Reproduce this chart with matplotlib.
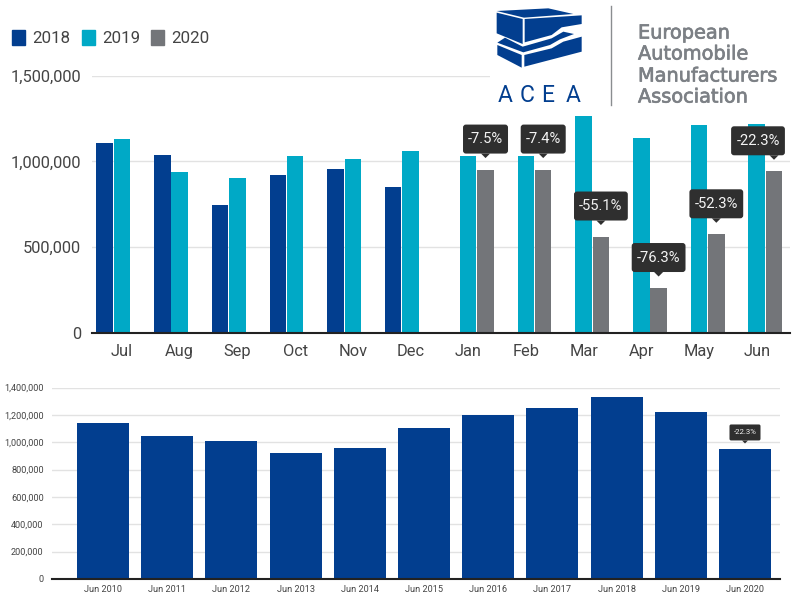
import numpy as np
from matplotlib import pyplot as plt
from matplotlib import patheffects as pe
from matplotlib.patches import FancyBboxPatch, Polygon, Rectangle, Patch
from matplotlib.transforms import ScaledTranslation

plt.rcParams['font.family'] = ['Roboto', 'DejaVu Sans']

months = ['Jul', 'Aug', 'Sep', 'Oct', 'Nov', 'Dec', 'Jan', 'Feb', 'Mar', 'Apr', 'May', 'Jun']
sales_2018 = [1105000, 1035000, 748000, 922000, 955000, 850000]
sales_2019 = [1128000, 940000, 902000, 1030000, 1015000, 1060000,
              1032000, 1032000, 1262000, 1138000, 1212000, 1218000]
sales_2020 = [952000, 952000, 562000, 262000, 575000, 942000]
changes = ['-7.5%', '-7.4%', '-55.1%', '-76.3%', '-52.3%', '-22.3%']
top_ticks = [0, 500000, 1000000, 1500000]

june_labels = ['Jun 2010', 'Jun 2011', 'Jun 2012', 'Jun 2013', 'Jun 2014', 'Jun 2015',
               'Jun 2016', 'Jun 2017', 'Jun 2018', 'Jun 2019', 'Jun 2020']
june_sales = [1142000, 1048000, 1008000, 920000, 958000, 1102000,
              1202000, 1248000, 1330000, 1222000, 947000]
bottom_ticks = [0, 200000, 400000, 600000, 800000, 1000000, 1200000, 1400000]

BLUE = '#023e8f'
TEAL = '#00a9c6'
GREY = '#737579'
TIP = '#2f2f2f'
W, H = 800, 600


def axes_at(left, right, top, bottom):
    return fig.add_axes([left / W, 1 - bottom / H, (right - left) / W, (bottom - top) / H])


def style(ax, ticks, size):
    for s in ax.spines.values():
        s.set_visible(False)
    ax.spines['bottom'].set_visible(True)
    ax.spines['bottom'].set_color('#222222')
    ax.spines['bottom'].set_linewidth(1.5)
    ax.set_yticks(ticks)
    ax.set_yticklabels([f'{t:,}' for t in ticks])
    ax.grid(axis='y', color='#e2e2e2', lw=1)
    ax.set_axisbelow(True)
    ax.tick_params(length=0, labelsize=size, labelcolor='#444444')


def tooltip(ax, xi, val, txt, dx, w, h, gap, tip_w, size):
    # sizes in pixels, anchored on the top of the bar
    tr = fig.dpi_scale_trans + ScaledTranslation(xi, val, ax.transData)
    ax.add_patch(FancyBboxPatch(((dx - w / 2) / 100, gap / 100), w / 100, h / 100,
                                boxstyle=f'round,pad=0,rounding_size={h * 0.1 / 100}',
                                fc=TIP, ec='none', transform=tr, zorder=5, clip_on=False))
    ax.add_patch(Polygon([(-tip_w / 100, gap / 100), (tip_w / 100, gap / 100),
                          (0, (gap - tip_w) / 100)],
                         fc=TIP, ec='none', transform=tr, zorder=5, clip_on=False))
    ax.text((dx) / 100, (gap + h / 2) / 100, txt, transform=tr, color='#f4f4f4',
            fontsize=size, ha='center', va='center', zorder=6, clip_on=False)


fig = plt.figure(figsize=(8, 6), dpi=100)

# top chart
ax = axes_at(92, 790, 75.5, 333)
x = np.arange(len(months))
x20 = x[6:]
ax.bar(x[:6] - 0.3, sales_2018, 0.285, color=BLUE)
ax.bar(x, sales_2019, 0.285, color=TEAL)
ax.bar(x20 + 0.3, sales_2020, 0.285, color=GREY)
ax.set_xlim((92 - 122) / 57.7, (790 - 122) / 57.7)
ax.set_ylim(0, 1500000)
ax.set_xticks(x)
ax.set_xticklabels(months)
style(ax, top_ticks, 11.8)
ax.tick_params(axis='y', pad=8)
ax.tick_params(axis='x', pad=8)

# last tooltip is pushed left to stay inside the chart
shifts = [0, 0, 0, 0, 0, -16]
for xi, val, txt, dx in zip(x20 + 0.3, sales_2020, changes, shifts):
    tooltip(ax, xi, val, txt, dx, 8.8 * len(txt) + 1, 29, 16, 4.5, 10.6)

fig.legend(handles=[Patch(color=BLUE, label='2018'), Patch(color=TEAL, label='2019'),
                    Patch(color=GREY, label='2020')],
           loc='center left', bbox_to_anchor=(12 / W, 1 - 38 / H), ncol=3, frameon=False,
           borderpad=0, borderaxespad=0, fontsize=12.2, labelcolor='#444444',
           handlelength=0.78, handleheight=1.0, handletextpad=0.42, columnspacing=0.66)

# bottom chart
ax2 = axes_at(52, 780, 387.5, 579)
x2 = np.arange(len(june_labels))
ax2.bar(x2, june_sales, 0.81, color=BLUE)
ax2.set_xlim((52 - 103) / 64.2, (780 - 103) / 64.2)
ax2.set_ylim(0, 1400000)
ax2.set_xticks(x2)
ax2.set_xticklabels(june_labels)
style(ax2, bottom_ticks, 6.6)
ax2.tick_params(axis='y', pad=6)
ax2.tick_params(axis='x', pad=4)

tooltip(ax2, x2[-1], june_sales[-1], changes[-1], 0, 31, 16, 9, 3, 5.6)

# logo, drawn in pixel coordinates
logo = fig.add_axes([0, 0, 1, 1], zorder=10)
logo.set_xlim(0, W)
logo.set_ylim(H, 0)
logo.axis('off')
logo.add_patch(Rectangle((490, 0), 310, 112, fc='white', ec='none'))
pieces = [
    [(50, 33), (205, 25), (280, 42), (132, 53)],
    [(134, 57), (305, 46), (305, 72), (245, 82), (215, 105), (134, 127)],
    [(50, 38), (128, 57), (128, 132), (50, 100)],
    [(52, 128), (75, 113), (128, 140), (215, 115), (250, 95), (282, 102), (240, 118), (210, 135), (130, 157)],
    [(52, 135), (125, 165), (125, 203), (52, 165)],
    [(133, 165), (215, 145), (250, 125), (305, 110), (305, 155), (133, 200)],
]
for p in pieces:
    logo.add_patch(Polygon([(480 + a / 3, b / 3) for a, b in p], fc=BLUE, ec='none'))
logo.plot([610.5, 610.5], [6, 105], color='#8a8d90', lw=1)
for cx, ch in zip([505, 527, 548, 573], 'ACEA'):
    logo.text(cx, 95, ch, color=BLUE, fontsize=16.5, ha='center', va='center')
names = ['European', 'Automobile', 'Manufacturers', 'Association']
for yy, name in zip([33, 54, 76, 97], names):
    logo.text(638, yy, name, color='#7c8085', fontsize=13.9,
              family='DejaVu Sans', va='center',
              path_effects=[pe.withStroke(linewidth=0.5, foreground='#7c8085')])

fig.savefig('out.png', dpi=100)
